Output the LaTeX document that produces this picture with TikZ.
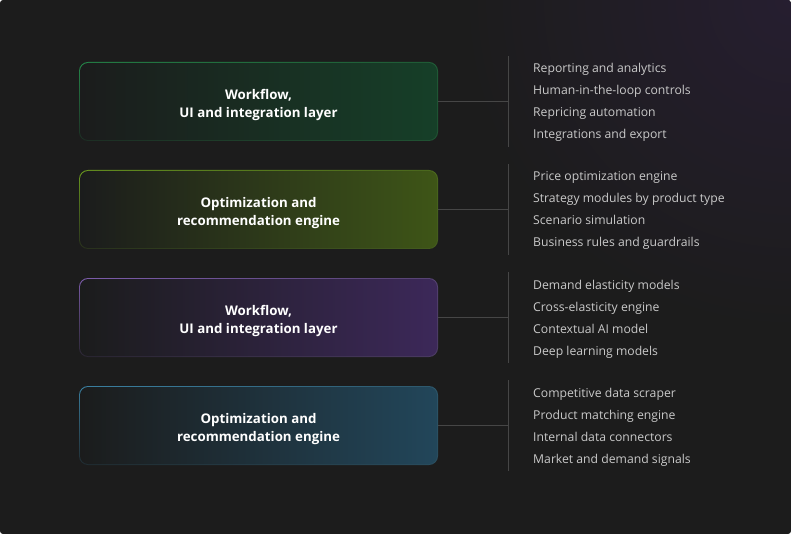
\documentclass[tikz,border=0pt]{standalone}
\usepackage{fontspec}
\setmainfont{Open Sans}
\usetikzlibrary{calc,shadings}
\definecolor{bgc}{HTML}{1C1C1C}
\definecolor{glowc}{HTML}{261E30}
\definecolor{linec}{HTML}{464646}
\definecolor{itemc}{HTML}{C9C9C9}
\definecolor{fillL}{HTML}{1B1C1C}
\definecolor{gA}{HTML}{163F28}\definecolor{gAb}{HTML}{25894A}
\definecolor{gB}{HTML}{3E5517}\definecolor{gBb}{HTML}{6C9B1F}
\definecolor{gC}{HTML}{3C2859}\definecolor{gCb}{HTML}{7C5CAA}
\definecolor{gD}{HTML}{22465A}\definecolor{gDb}{HTML}{3A7FA0}
\tikzset{
  title/.style={text=white, font=\fontsize{13.3}{18}\selectfont\bfseries, align=center},
  item/.style={text=itemc, font=\fontsize{12.2}{14}\selectfont, anchor=west, inner sep=0pt, text height=8.6pt, text depth=2.6pt},
  conn/.style={draw=linec, line width=0.9pt},
}
\newcommand{\layerbox}[6]{% name, top y, border color, fill color, line1, line2
  \shade[rounded corners=9pt, upper left=#3, upper right=#3!60!fillL, lower left=fillL!85!#3, lower right=#3!50!fillL]
    (79,#2) rectangle (438,#2+79);
  \shade[rounded corners=8.2pt, left color=fillL, right color=#4]
    (80,#2+1) rectangle (437,#2+78);
  \node[minimum width=359pt, minimum height=79pt, inner sep=0pt] (#1) at (258.5,#2+39.5) {};
  \node[title] at ($(#1.center)+(0,4)$) {#5\\#6};
  \coordinate (#1v) at (508,#2+39.5);
  \draw[conn] (#1.east) -- (#1v);
  \draw[conn] (508,#2-6) coordinate (#1t) -- (508,#2+85) coordinate (#1b);
}
\begin{document}
\begin{tikzpicture}[x=1pt,y=-1pt]
\useasboundingbox (0,0) rectangle (791,534);
\fill[bgc, rounded corners=3pt] (0,0) rectangle (791,534);
\begin{scope}
\clip[rounded corners=3pt] (0,0) rectangle (791,534);
\shade[inner color=glowc, outer color=bgc] (791,0) circle (330pt);
\end{scope}
\layerbox{A}{62}{gAb}{gA}{Workflow,}{UI and integration layer}
\layerbox{B}{170}{gBb}{gB}{Optimization and}{recommendation engine}
\layerbox{C}{278}{gCb}{gC}{Workflow,}{UI and integration layer}
\layerbox{D}{386}{gDb}{gD}{Optimization and}{recommendation engine}
\node[item] (a1) at (533,70) {Reporting and analytics};
\node[item] (a2) at (533,92) {Human-in-the-loop controls};
\node[item] (a3) at (533,114) {Repricing automation};
\node[item] (a4) at (533,136) {Integrations and export};
\node[item] (b1) at (533,178) {Price optimization engine};
\node[item] (b2) at (533,200) {Strategy modules by product type};
\node[item] (b3) at (533,222) {Scenario simulation};
\node[item] (b4) at (533,244) {Business rules and guardrails};
\node[item] (c1) at (533,286) {Demand elasticity models};
\node[item] (c2) at (533,308) {Cross-elasticity engine};
\node[item] (c3) at (533,330) {Contextual AI model};
\node[item] (c4) at (533,352) {Deep learning models};
\node[item] (d1) at (533,394) {Competitive data scraper};
\node[item] (d2) at (533,416) {Product matching engine};
\node[item] (d3) at (533,438) {Internal data connectors};
\node[item] (d4) at (533,460) {Market and demand signals};
\end{tikzpicture}
\end{document}
